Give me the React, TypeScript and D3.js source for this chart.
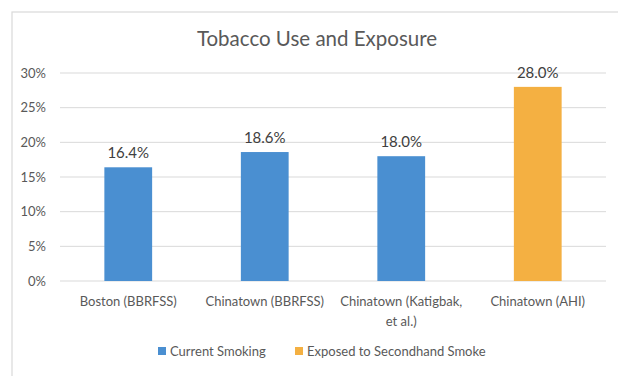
import React from "react";
import * as d3 from "d3";

const categories = ["Boston (BBRFSS)", "Chinatown (BBRFSS)", "Chinatown (Katigbak, et al.)", "Chinatown (AHI)"];
const categoryLines = [["Boston (BBRFSS)"], ["Chinatown (BBRFSS)"], ["Chinatown (Katigbak,", "et al.)"], ["Chinatown (AHI)"]];
const values = [16.4, 18.6, 18.0, 28.0];
const seriesOf = [0, 0, 0, 1];
const seriesNames = ["Current Smoking", "Exposed to Secondhand Smoke"];
const seriesColors = ["#4A8FD1", "#F4B042"];
const yTicks = [0, 5, 10, 15, 20, 25, 30];

export default function App() {
  const W = 618, H = 376;
  const left = 60, right = 606, top = 73, bottom = 281;
  const x = d3.scaleBand<string>().domain(categories).range([left, right]).paddingInner(0.65).paddingOuter(0.325);
  const y = d3.scaleLinear().domain([0, 30]).range([bottom, top]);
  const font = "Lato, 'Open Sans', sans-serif";
  const textColor = "#595959";
  return (
    <div style={{ position: "absolute", left: 0, top: 0 }}>
      <svg width={W} height={H} style={{ display: "block", background: "#fff" }} fontFamily={font}>
        <rect x={12} y={12} width={W + 20} height={H + 20} fill="#fff" stroke="#d9d9d9" strokeWidth={1.2} />
        <text x={317} y={46} textAnchor="middle" fontSize={20.5} fill={textColor}>Tobacco Use and Exposure</text>
        {yTicks.map((t) => (
          <g key={t}>
            <line x1={left} x2={right} y1={y(t)} y2={y(t)} stroke="#d9d9d9" strokeWidth={1} />
            <text x={46} y={y(t)} dy="0.35em" textAnchor="end" fontSize={13} fill={textColor}>{t}%</text>
          </g>
        ))}
        {categories.map((c, i) => (
          <g key={c}>
            <rect x={x(c)} y={y(values[i])} width={x.bandwidth()} height={y(0) - y(values[i])} fill={seriesColors[seriesOf[i]]} />
            <text x={(x(c) as number) + x.bandwidth() / 2} y={y(values[i]) - 9} textAnchor="middle" fontSize={15} fill="#404040">{values[i].toFixed(1)}%</text>
            {categoryLines[i].map((ln, j) => (
              <text key={j} x={(x(c) as number) + x.bandwidth() / 2} y={306 + j * 20} textAnchor="middle" fontSize={13} fill={textColor}>{ln}</text>
            ))}
          </g>
        ))}
        {seriesNames.map((s, i) => {
          const lx = [158, 295][i];
          return (
            <g key={s}>
              <rect x={lx} y={347} width={8} height={8} fill={seriesColors[i]} />
              <text x={lx + 12} y={351} dy="0.35em" fontSize={13} fill={textColor}>{s}</text>
            </g>
          );
        })}
      </svg>
    </div>
  );
}
